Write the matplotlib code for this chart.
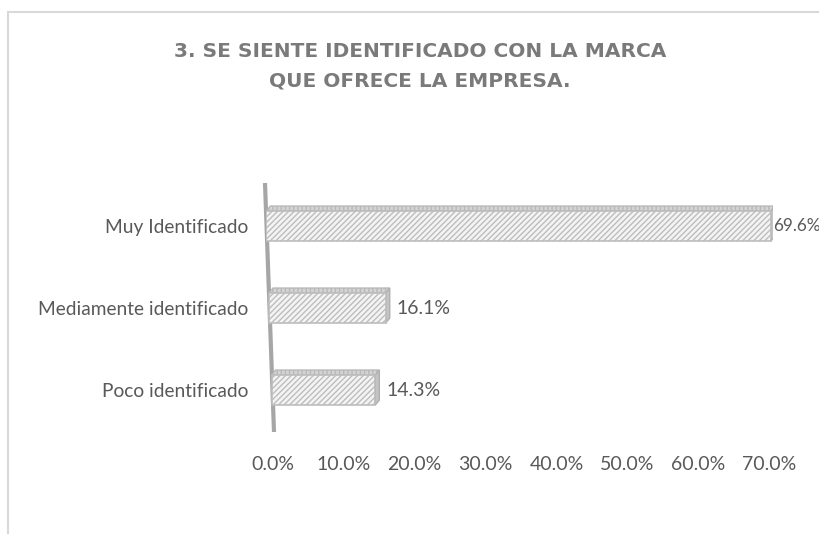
import matplotlib
matplotlib.use("Agg")
import matplotlib.pyplot as plt
from matplotlib.patches import Polygon, Rectangle

# datos
categorias = ["Poco identificado", "Mediamente identificado", "Muy Identificado"]
porcentajes = [14.3, 16.1, 69.6]
ticks_x = [0, 10, 20, 30, 40, 50, 60, 70]
titulo = "3. SE SIENTE IDENTIFICADO CON LA MARCA\nQUE OFRECE LA EMPRESA."

plt.rcParams['font.family'] = ['Lato', 'DejaVu Sans']
plt.rcParams['hatch.linewidth'] = 1.0
GRIS_TXT = '#595959'

W, H = 820, 534
fig = plt.figure(figsize=(W / 100, H / 100), dpi=100)

# marco del gráfico (solo se ven el borde superior e izquierdo)
fig.patches.append(Rectangle((8 / W, -0.5), 1.5, 1.5 - 12 / H, transform=fig.transFigure,
                             fill=False, edgecolor='#d9d9d9', lw=1.5))

fig.text(420 / W, 1 - 66 / H, titulo, ha='center', va='center', fontsize=14.5,
         family='DejaVu Sans', fontweight='bold', color='#7a7a7a', linespacing=1.7)

# ejes principales en píxeles
x0, x1 = 266, 773.5
y_top, y_bot = 183, 432
ax = fig.add_axes([x0 / W, (H - y_bot) / H, (x1 - x0) / W, (y_bot - y_top) / H])
ax.set_xlim(0, 70)
ax.set_ylim(-0.512, 2.525)
for s in ax.spines.values():
    s.set_visible(False)
ax.set_xticks([])
ax.set_yticks(range(len(categorias)), categorias)
ax.tick_params(axis='y', length=0, pad=13, labelsize=13.8, labelcolor=GRIS_TXT)

# pared (eje vertical inclinado)
ax.plot([8 / (x1 - x0), -1 / (x1 - x0)], [0, 1], transform=ax.transAxes,
        color='#a6a6a6', lw=3, clip_on=False, solid_capstyle='butt', zorder=1)

px_x = (x1 - x0) / 70.0          # píxeles por unidad en x
px_y = (y_bot - y_top) / (2.525 + 0.512)
alto = 30 / px_y
dx, dy = 4 / px_x, 5 / px_y

for i, v in enumerate(porcentajes):
    ypx = y_bot - (i + 0.512) * px_y
    izq = ((ypx - y_top) * 8 / (y_bot - y_top) - 1) / px_x
    yb, yt = i - alto / 2, i + alto / 2
    ax.barh(i, v, left=izq, height=alto, color='#f4f4f4', edgecolor='#bdbdbd',
            hatch='//////', lw=1.2, zorder=3)
    fin = izq + v
    ax.add_patch(Polygon([(izq, yt), (fin, yt), (fin + dx, yt + dy), (izq + dx, yt + dy)],
                         closed=True, facecolor='#d4d4d4', edgecolor='#b8b8b8',
                         hatch='||||', lw=1, zorder=2))
    ax.add_patch(Polygon([(fin, yb), (fin + dx, yb + dy), (fin + dx, yt + dy), (fin, yt)],
                         closed=True, facecolor='#c4c4c4', edgecolor='#b0b0b0',
                         lw=1, zorder=2))
    xl = fin + dx + 7 / px_x
    tam = 14
    if xl > 70:  # no cabe: se pega a la barra y se reduce un poco
        xl, tam = 70, 12.3
    ax.text(xl, i, f"{v:.1f}%", ha='left', va='center', fontsize=tam,
            color=GRIS_TXT, clip_on=False)

# etiquetas del eje x (en el "suelo", con otra escala por la perspectiva)
ax2 = fig.add_axes([273 / W, (H - 452) / H, 496 / W, 0.0001])
ax2.set_xlim(0, 70)
ax2.set_yticks([])
for s in ax2.spines.values():
    s.set_visible(False)
ax2.set_xticks(ticks_x, [f"{t:.1f}%" for t in ticks_x])
ax2.tick_params(axis='x', length=0, pad=3, labelsize=14, labelcolor=GRIS_TXT)
ax2.patch.set_visible(False)

fig.savefig("out.png", dpi=100)
